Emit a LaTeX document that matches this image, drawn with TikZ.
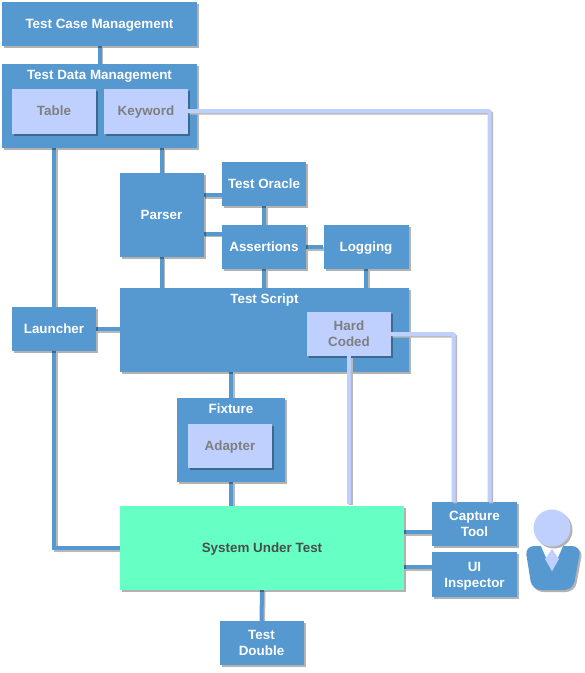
\documentclass[tikz,border=0pt]{standalone}
\usepackage{fontspec}
\setmainfont{Liberation Sans}
\usepackage{tikz}
\usetikzlibrary{backgrounds,shadows}

\definecolor{boxblue}{HTML}{5599D0}
\definecolor{paleblue}{HTML}{BFD0FF}
\definecolor{mint}{HTML}{66FFC4}
\definecolor{labelgray}{HTML}{7F7F7F}

% connector with its shadow under it
\newcommand{\linkline}[2][link]{%
  \draw[#1, draw=black!28, transform canvas={shift={(1.5pt,-1.5pt)}}] #2;
  \draw[#1] #2;}

\begin{document}
\begin{tikzpicture}[
  x=1pt, y=-1pt,
  every node/.style={align=center, font=\fontsize{13.4}{16}\selectfont\bfseries, inner sep=0pt, text depth=0pt},
  softshadow/.style={drop shadow={shadow xshift=2pt, shadow yshift=-2pt, opacity=0.3, fill=black}},
  block/.style={rectangle, fill=boxblue, text=white, softshadow},
  inner/.style={rectangle, fill=paleblue, text=labelgray, softshadow},
  sut/.style={rectangle, fill=mint, text=black!70, softshadow},
  link/.style={draw=boxblue, line width=4pt},
  pale/.style={draw=paleblue, line width=4pt, rounded corners=1pt}
]
\useasboundingbox (0,0) rectangle (585,673);

% --- TOP ---
\node[block, minimum width=195pt, minimum height=44pt] (casemgmt) at (99.5,24) {Test Case Management};
\node[block, minimum width=195pt, minimum height=84pt] (datamgmt) at (99.5,106) {};
\node[text=white] (datatitle) at (99.5,75) {Test Data Management};
\node[inner, minimum width=84pt, minimum height=45pt] (tablebox) at (54,111) {Table};
\node[inner, minimum width=84pt, minimum height=45pt] (keyword) at (146,111) {Keyword};

% --- MIDDLE ---
\node[block, minimum width=84pt, minimum height=84pt] (parser) at (161.5,215) {Parser};
\node[block, minimum width=84pt, minimum height=44pt] (oracle) at (264,184) {Test Oracle};
\node[block, minimum width=84pt, minimum height=44pt] (assertions) at (264,247) {Assertions};
\node[block, minimum width=85pt, minimum height=44pt] (logging) at (366,247) {Logging};
\node[block, minimum width=84pt, minimum height=44pt] (launcher) at (54,329) {Launcher};
\node[block, minimum width=289pt, minimum height=84pt] (script) at (264.5,330) {};
\node[text=white] (scripttitle) at (264.5,299) {Test Script};
\node[inner, minimum width=84pt, minimum height=44pt] (hardcoded) at (349,334) {Hard\\Coded};

% --- LOWER ---
\node[block, minimum width=108pt, minimum height=84pt] (fixture) at (231,440) {};
\node[text=white] (fixturetitle) at (231,409) {Fixture};
\node[inner, minimum width=84pt, minimum height=44pt] (adapter) at (230,446) {Adapter};
\node[sut, minimum width=284pt, minimum height=84pt] (system) at (262,548) {System Under Test};
\node[block, minimum width=85pt, minimum height=44pt] (capture) at (474.5,524) {Capture\\Tool};
\node[block, minimum width=85pt, minimum height=45pt] (inspector) at (474.5,574.5) {UI\\Inspector};
\node[block, minimum width=84pt, minimum height=44pt] (double) at (261.5,643) {Test\\Double};

% --- CONNECTORS ---
\begin{scope}[on background layer]
\linkline{(casemgmt) -- (datamgmt)}
\linkline{(launcher.north) -- (launcher.north |- datamgmt.south)}
\linkline{(parser.north) -- (parser.north |- datamgmt.south)}
\linkline{(parser.east |- oracle.south) ++(0,-11) -- ++(19,0)}
\linkline{(parser.east |- assertions.north) ++(0,9) -- ++(19,0)}
\linkline{(oracle) -- (assertions)}
\linkline{(assertions) -- (logging)}
\linkline{(parser.south) -- (parser.south |- script.north)}
\linkline{(assertions.south) -- (assertions.south |- script.north)}
\linkline{(logging.south) -- (logging.south |- script.north)}
\linkline{(launcher) -- (launcher -| script.west)}
\linkline{(launcher.south) |- (system.west)}
\linkline{(fixture.north) -- (fixture.north |- script.south)}
\linkline{(fixture.south) -- (fixture.south |- system.north)}
\linkline{(system.south) -- (double.north)}
\linkline{(capture.west |- 0,532) -- (system.east |- 0,532)}
\linkline{(inspector.west |- 0,567) -- (system.east |- 0,567)}
\end{scope}
\linkline[pale]{(keyword.east) -| ([xshift=15pt]capture.north)}
\linkline[pale]{(hardcoded.east) -| ([xshift=-21pt]capture.north)}
\linkline[pale]{(hardcoded.south) -- ([yshift=2pt]hardcoded.south |- system.north)}

% --- PERSON ---
\fill[boxblue, rounded corners=9pt, softshadow] (525,546) -- (581,546) -- (573,590) -- (532,590) -- cycle;
\fill[white] (541,546) -- (563,546) -- (552,571) -- cycle;
\fill[paleblue] (552,549) -- (559,559) -- (552,571) -- (545,559) -- cycle;
\node[circle, fill=paleblue, minimum size=37pt, softshadow] (head) at (552,528) {};
\end{tikzpicture}
\end{document}
